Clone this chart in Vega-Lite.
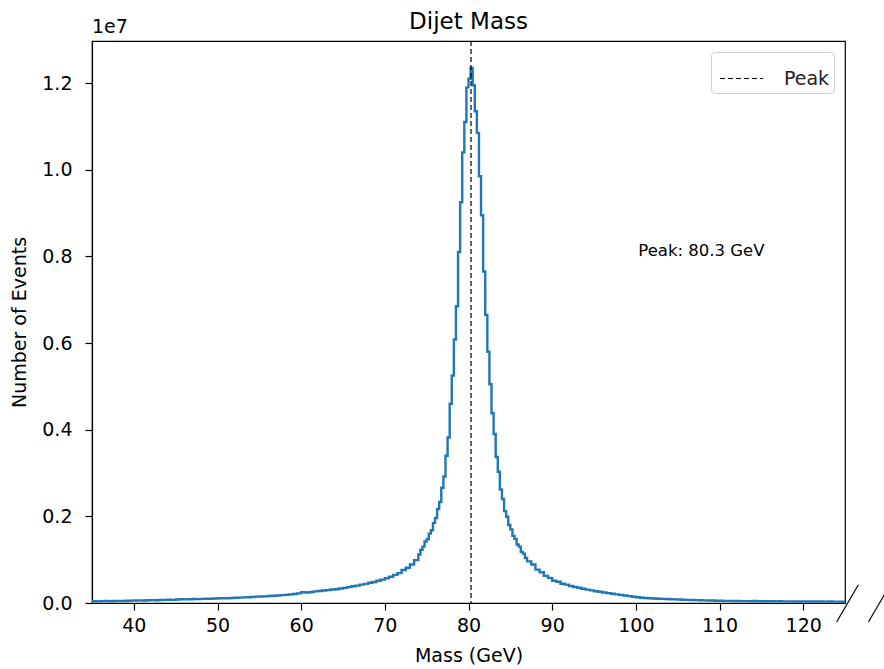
{
  "$schema": "https://vega.github.io/schema/vega-lite/v6.json",
  "width": 753,
  "height": 562,
  "autosize": {"type": "none"},
  "padding": {"left": 92, "top": 41, "right": 39, "bottom": 66},
  "background": "white",
  "title": {"text": "Dijet Mass", "fontSize": 23, "fontWeight": "normal", "font": "DejaVu Sans", "color": "black", "offset": -16},
  "config": {
    "font": "DejaVu Sans",
    "view": {"stroke": "black", "strokeWidth": 1.2},
    "axis": {
      "grid": false,
      "domainColor": "black",
      "domainWidth": 1.2,
      "tickColor": "black",
      "tickSize": 7,
      "tickWidth": 1.2,
      "labelFontSize": 19,
      "labelColor": "black",
      "titleFontSize": 19,
      "titleFontWeight": "normal",
      "titleColor": "black",
      "labelFont": "DejaVu Sans",
      "titleFont": "DejaVu Sans"
    }
  },
  "layer": [
    {
      "data": {"values": [
        {"m":35.0,"n":41000},{"m":35.5,"n":38000},{"m":36.0,"n":43000},{"m":36.5,"n":45000},{"m":37.0,"n":42000},{"m":37.5,"n":47000},{"m":38.0,"n":49000},{"m":38.5,"n":46000},{"m":39.0,"n":52000},{"m":39.5,"n":55000},
        {"m":40.0,"n":58000},{"m":40.5,"n":61000},{"m":41.0,"n":59000},{"m":41.5,"n":63000},{"m":42.0,"n":66000},{"m":42.5,"n":64000},{"m":43.0,"n":70000},{"m":43.5,"n":72000},{"m":44.0,"n":75000},{"m":44.5,"n":73000},
        {"m":45.0,"n":82000},{"m":45.5,"n":85000},{"m":46.0,"n":83000},{"m":46.5,"n":88000},{"m":47.0,"n":92000},{"m":47.5,"n":90000},{"m":48.0,"n":96000},{"m":48.5,"n":99000},{"m":49.0,"n":97000},{"m":49.5,"n":104000},
        {"m":50.0,"n":108000},{"m":50.5,"n":111000},{"m":51.0,"n":109000},{"m":51.5,"n":117000},{"m":52.0,"n":121000},{"m":52.5,"n":124000},{"m":53.0,"n":130000},{"m":53.5,"n":134000},{"m":54.0,"n":138000},{"m":54.5,"n":147000},
        {"m":55.0,"n":150000},{"m":55.5,"n":153000},{"m":56.0,"n":162000},{"m":56.5,"n":168000},{"m":57.0,"n":173000},{"m":57.5,"n":182000},{"m":58.0,"n":188000},{"m":58.5,"n":199000},{"m":59.0,"n":206000},{"m":59.5,"n":221000},
        {"m":60.0,"n":248000},{"m":60.5,"n":243000},{"m":61.0,"n":255000},{"m":61.5,"n":268000},{"m":62.0,"n":276000},{"m":62.5,"n":290000},{"m":63.0,"n":297000},{"m":63.5,"n":310000},{"m":64.0,"n":318000},{"m":64.5,"n":336000},
        {"m":65.0,"n":348000},{"m":65.5,"n":366000},{"m":66.0,"n":385000},{"m":66.5,"n":402000},{"m":67.0,"n":425000},{"m":67.5,"n":441000},{"m":68.0,"n":466000},{"m":68.5,"n":484000},{"m":69.0,"n":512000},{"m":69.5,"n":540000},
        {"m":70.0,"n":570000},{"m":70.5,"n":605000},{"m":71.0,"n":648000},{"m":71.5,"n":690000},{"m":72.0,"n":760000},{"m":72.5,"n":815000},{"m":73.0,"n":890000},{"m":73.5,"n":990000},
        {"m":74.0,"n":1120000},{"m":74.25,"n":1230000},{"m":74.5,"n":1300000},{"m":74.75,"n":1420000},{"m":75.0,"n":1470000},{"m":75.25,"n":1600000},{"m":75.5,"n":1680000},{"m":75.75,"n":1850000},
        {"m":76.0,"n":1960000},{"m":76.25,"n":2170000},{"m":76.5,"n":2330000},{"m":76.75,"n":2660000},{"m":77.0,"n":2920000},{"m":77.25,"n":3400000},{"m":77.5,"n":3820000},{"m":77.75,"n":4600000},
        {"m":78.0,"n":5250000},{"m":78.25,"n":6080000},{"m":78.5,"n":6850000},{"m":78.75,"n":8100000},{"m":79.0,"n":9250000},{"m":79.25,"n":10400000},{"m":79.5,"n":11100000},{"m":79.75,"n":11900000},
        {"m":80.0,"n":12100000},{"m":80.25,"n":12350000},{"m":80.5,"n":11950000},{"m":80.75,"n":11350000},{"m":81.0,"n":10850000},{"m":81.25,"n":9850000},{"m":81.5,"n":8950000},{"m":81.75,"n":7650000},
        {"m":82.0,"n":6650000},{"m":82.25,"n":5800000},{"m":82.5,"n":5050000},{"m":82.75,"n":4380000},{"m":83.0,"n":3900000},{"m":83.25,"n":3370000},{"m":83.5,"n":3030000},{"m":83.75,"n":2620000},
        {"m":84.0,"n":2400000},{"m":84.25,"n":2120000},{"m":84.5,"n":1990000},{"m":84.75,"n":1800000},{"m":85.0,"n":1700000},{"m":85.25,"n":1550000},{"m":85.5,"n":1480000},{"m":85.75,"n":1350000},
        {"m":86.0,"n":1300000},{"m":86.25,"n":1180000},{"m":86.5,"n":1140000},{"m":86.75,"n":1040000},
        {"m":87.0,"n":960000},{"m":87.5,"n":890000},{"m":88.0,"n":770000},{"m":88.5,"n":710000},{"m":89.0,"n":625000},{"m":89.5,"n":580000},
        {"m":90.0,"n":515000},{"m":90.5,"n":490000},{"m":91.0,"n":445000},{"m":91.5,"n":425000},{"m":92.0,"n":392000},{"m":92.5,"n":368000},{"m":93.0,"n":352000},{"m":93.5,"n":330000},{"m":94.0,"n":309000},{"m":94.5,"n":292000},
        {"m":95.0,"n":272000},{"m":95.5,"n":258000},{"m":96.0,"n":243000},{"m":96.5,"n":228000},{"m":97.0,"n":214000},{"m":97.5,"n":198000},{"m":98.0,"n":188000},{"m":98.5,"n":172000},{"m":99.0,"n":158000},{"m":99.5,"n":143000},
        {"m":100.0,"n":131000},{"m":100.5,"n":122000},{"m":101.0,"n":117000},{"m":101.5,"n":111000},{"m":102.0,"n":104000},{"m":102.5,"n":99000},{"m":103.0,"n":95000},{"m":103.5,"n":91000},{"m":104.0,"n":86000},{"m":104.5,"n":84000},
        {"m":105.0,"n":80000},{"m":105.5,"n":76000},{"m":106.0,"n":73000},{"m":106.5,"n":70000},{"m":107.0,"n":66000},{"m":107.5,"n":64000},{"m":108.0,"n":61000},{"m":108.5,"n":58000},{"m":109.0,"n":56000},{"m":109.5,"n":53000},
        {"m":110.0,"n":51000},{"m":110.5,"n":49000},{"m":111.0,"n":48000},{"m":111.5,"n":46000},{"m":112.0,"n":45000},{"m":112.5,"n":44000},{"m":113.0,"n":43000},{"m":113.5,"n":42000},{"m":114.0,"n":45000},{"m":114.5,"n":41000},
        {"m":115.0,"n":40000},{"m":115.5,"n":39000},{"m":116.0,"n":41000},{"m":116.5,"n":38000},{"m":117.0,"n":39000},{"m":117.5,"n":37000},{"m":118.0,"n":38000},{"m":118.5,"n":36000},{"m":119.0,"n":37000},{"m":119.5,"n":35000},
        {"m":120.0,"n":36000},{"m":120.5,"n":34000},{"m":121.0,"n":35000},{"m":121.5,"n":33000},{"m":122.0,"n":34000},{"m":122.5,"n":32000},{"m":123.0,"n":33000},{"m":123.5,"n":31000},{"m":124.0,"n":32000},{"m":124.5,"n":30000},
        {"m":125.0,"n":30000}
      ]},
      "mark": {"type": "line", "interpolate": "step-after", "color": "#1f77b4", "strokeWidth": 2.4, "clip": true},
      "encoding": {
        "x": {"field": "m", "type": "quantitative", "scale": {"domain": [35, 125], "nice": false, "zero": false},
              "axis": {"values": [40, 50, 60, 70, 80, 90, 100, 110, 120], "labelPadding": 6, "titlePadding": 11}, "title": "Mass (GeV)"},
        "y": {"field": "n", "type": "quantitative", "scale": {"domain": [0, 12970000], "nice": false},
              "axis": {"values": [0, 2000000, 4000000, 6000000, 8000000, 10000000, 12000000], "labelExpr": "format(datum.value / 10000000, '.1f')", "labelPadding": 13, "titlePadding": 12}, "title": "Number of Events"}
      }
    },
    {
      "data": {"values": [{"x": 80.3, "label": "Peak"}]},
      "mark": {"type": "rule", "color": "black", "strokeWidth": 1.2},
      "encoding": {
        "x": {"field": "x", "type": "quantitative"},
        "strokeDash": {"field": "label", "type": "nominal", "scale": {"range": [[5, 3]]},
          "legend": {"orient": "top-right", "offset": 11, "title": null, "symbolType": "stroke", "symbolSize": 1850, "symbolOffset": 4, "symbolStrokeColor": "black", "symbolStrokeWidth": 1.2, "labelFontSize": 19, "labelColor": "#222222", "strokeColor": "#d0d0d0", "fillColor": "white", "cornerRadius": 4, "padding": 4, "labelOffset": 20}}
      }
    },
    {
      "data": {"values": [{"x": 100.3, "y": 8130000, "t": "Peak: 80.3 GeV"}]},
      "mark": {"type": "text", "align": "left", "baseline": "middle", "fontSize": 16.5, "color": "black"},
      "encoding": {
        "x": {"field": "x", "type": "quantitative"},
        "y": {"field": "y", "type": "quantitative"},
        "text": {"field": "t"}
      }
    },
    {
      "data": {"values": [{"x": 35, "y": 12970000, "t": "1e7"}]},
      "mark": {"type": "text", "align": "left", "baseline": "bottom", "dy": -4, "fontSize": 19, "color": "black"},
      "encoding": {
        "x": {"field": "x", "type": "quantitative"},
        "y": {"field": "y", "type": "quantitative"},
        "text": {"field": "t"}
      }
    },
    {
      "data": {"values": [{"x1": 124.0, "y1": -440000, "x2": 126.6, "y2": 420000}, {"x1": 127.8, "y1": -440000, "x2": 130.4, "y2": 420000}]},
      "mark": {"type": "rule", "color": "black", "strokeWidth": 1.2, "clip": false},
      "encoding": {
        "x": {"field": "x1", "type": "quantitative"},
        "x2": {"field": "x2"},
        "y": {"field": "y1", "type": "quantitative"},
        "y2": {"field": "y2"}
      }
    }
  ]
}
